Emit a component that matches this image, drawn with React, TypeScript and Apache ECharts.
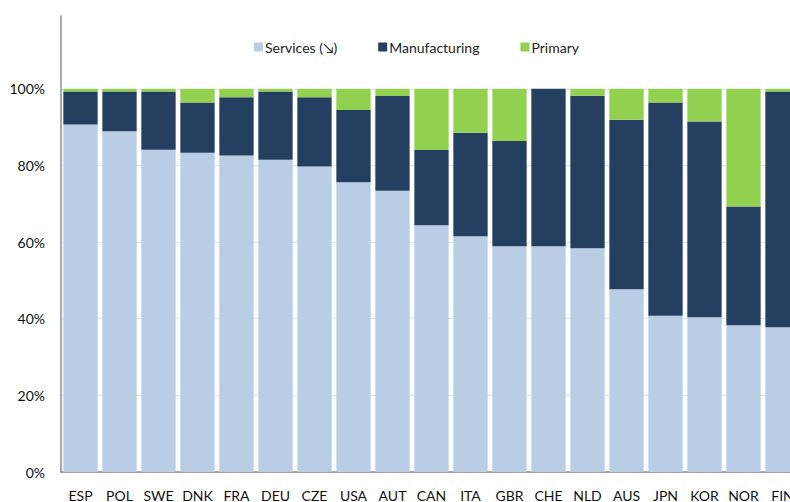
import React, { useEffect, useRef } from "react";
import * as echarts from "echarts";

const categories = ["ESP", "POL", "SWE", "DNK", "FRA", "DEU", "CZE", "USA", "AUT", "CAN", "ITA", "GBR", "CHE", "NLD", "AUS", "JPN", "KOR", "NOR", "FIN"];
const services = [90.7, 88.9, 84.1, 83.3, 82.6, 81.5, 79.7, 75.6, 73.4, 64.4, 61.5, 58.9, 58.9, 58.4, 47.7, 40.8, 40.4, 38.3, 37.8];
const manufacturing = [8.6, 10.4, 15.2, 13.1, 15.2, 17.8, 18.1, 18.9, 24.7, 19.6, 27.0, 27.5, 41.1, 39.8, 44.2, 55.6, 51.1, 31.0, 61.5];
const primary = [0.7, 0.7, 0.7, 3.6, 2.2, 0.7, 2.2, 5.5, 1.9, 16.0, 11.5, 13.6, 0.0, 1.8, 8.1, 3.6, 8.5, 30.7, 0.7];
const seriesNames = ["Services (↘)", "Manufacturing", "Primary"];
const colors = ["#b9cde5", "#243f60", "#92d050"];

export default function App() {
  const ref = useRef<HTMLDivElement>(null);
  useEffect(() => {
    document.body.style.margin = "0";
    const chart = echarts.init(ref.current!, null, { renderer: "svg" });
    const font = "Lato, 'Open Sans', sans-serif";
    const values = [services, manufacturing, primary];
    chart.setOption({
      animation: false,
      textStyle: { fontFamily: font },
      legend: {
        top: 35,
        left: 249,
        itemWidth: 9,
        itemHeight: 9,
        itemGap: 41,
        icon: "rect",
        textStyle: { fontSize: 14, color: "#222", fontFamily: font, padding: [0, 0, 0, -3] },
        data: seriesNames,
      },
      grid: { left: 61, top: 16, width: 741, bottom: 29 },
      xAxis: {
        type: "category",
        data: categories,
        axisLine: { lineStyle: { color: "#8c8c8c", width: 1.5 } },
        axisTick: { show: false },
        axisLabel: { interval: 0, margin: 16, fontSize: 14, color: "#111", fontFamily: font },
      },
      yAxis: {
        type: "value",
        min: 0,
        max: 119,
        interval: 20,
        axisLine: { show: true, lineStyle: { color: "#8c8c8c", width: 1.5 } },
        axisTick: { show: false },
        axisLabel: {
          margin: 16,
          fontSize: 14,
          color: "#111",
          fontFamily: font,
          showMaxLabel: false,
          formatter: (v: number) => (v > 100 ? "" : v + "%"),
        },
        splitLine: { show: true, showMaxLine: false, lineStyle: { color: "#dfe5f1", width: 1 } },
      },
      series: seriesNames.map((name, i) => ({
        name,
        type: "bar",
        stack: "total",
        data: values[i],
        barCategoryGap: "12%",
        itemStyle: { color: colors[i] },
      })),
    });
    return () => chart.dispose();
  }, []);
  return (
    <div style={{ width: 790, height: 502, overflow: "hidden", position: "relative" }}>
      <div ref={ref} style={{ width: 812, height: 502 }} />
    </div>
  );
}
